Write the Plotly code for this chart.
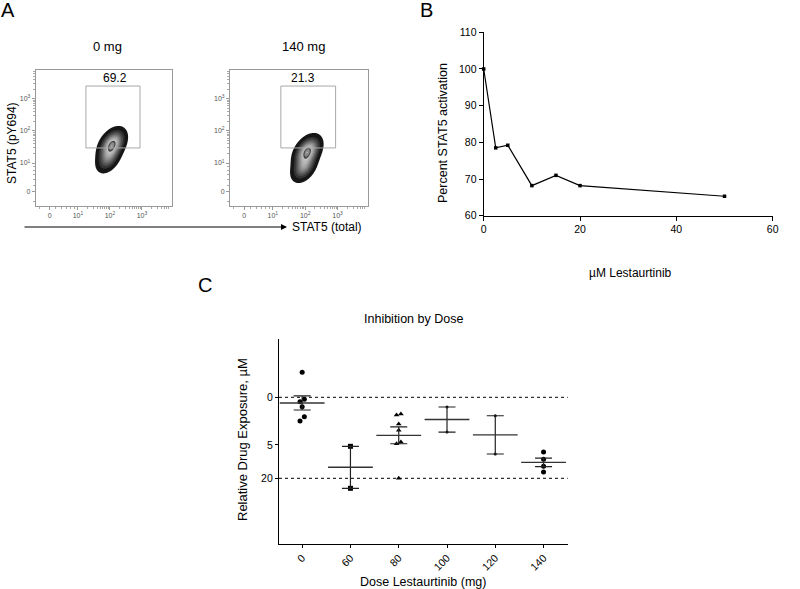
import numpy as np
import plotly.graph_objects as go

W, H = 800, 589
FONT = "Liberation Sans, Arial, sans-serif"


def px(x):
    return x / W


def py(y):
    return 1 - y / H


# ---------------- Panel A : flow cytometry ----------------
flow_samples = ["0 mg", "140 mg"]
gate_percent = ["69.2", "21.3"]
decade_labels = ["0", "10<sup>1</sup>", "10<sup>2</sup>", "10<sup>3</sup>"]
decade_values = [0.12, 1, 2, 3]          # biexponential display units
gate_x = [1.25, 2.94]                    # gate limits, decades
gate_y = [1.47, 3.40]
# population (main + tail component), decades
pop_cx = [2.07, 2.07]
pop_cy = [1.58, 1.36]
pop_sx = [0.19, 0.19]
pop_sy = [0.22, 0.22]
pop_rho = [0.40, 0.40]
tail_cx = [1.96, 1.97]
tail_cy = [1.18, 0.90]
tail_sx = [0.18, 0.18]
tail_sy = [0.22, 0.22]
tail_w = [0.45, 0.55]

# ---------------- Panel B : dose response ----------------
lestaurtinib_uM = [0, 2.5, 5, 10, 15, 20, 50]
pct_stat5 = [100, 78.5, 79.2, 68.2, 71.0, 68.2, 65.3]

# ---------------- Panel C : inhibition by dose ----------------
doses = ["0", "60", "80", "100", "120", "140"]
exposure_uM = [
    [-0.61, 0.18, 0.08, 0.42, 1.08, 1.44],
    [5.31, 29.6],
    [0.95, 0.88, 1.73, 2.46, 4.37, 4.71, 20.0],
    [0.44, 2.69],
    [1.00, 7.43],
    [6.82, 9.28, 12.37, 15.56],
]
ref_lines_uM = [0, 20]
ytick_uM = [0, 5, 20]


def to_axis(v):
    return np.log10(1 + np.asarray(v, dtype=float))


fig = go.Figure()

# ---- Panel A traces
gx = np.linspace(0.9, 3.2, 200)
gy = np.linspace(-0.2, 2.8, 240)
XX, YY = np.meshgrid(gx, gy)
a_axes = [("x4", "y4"), ("x5", "y5")]
lev_start, lev_size, lev_n = 0.03, 0.08, 13
band_colors = ["#161616", "#343434", "#4e4e4e", "#646464", "#7a7a7a", "#8e8e8e",
               "#a0a0a0", "#b0b0b0", "#bcbcbc", "#c6c6c6", "#4a4a4a", "#8a8a8a",
               "#b8b8b8"]
a_colorscale = [[0.0, "white"]]
for i, c in enumerate(band_colors):
    lo = max(lev_start + i * lev_size - 0.01, 0.001)
    hi = min(lev_start + (i + 1) * lev_size - 0.01, 1.0)
    a_colorscale.append([lo, c])
    a_colorscale.append([hi, c])
a_colorscale.insert(1, [a_colorscale[1][0] - 0.0005, "white"])
if a_colorscale[-1][0] < 1.0:
    a_colorscale.append([1.0, band_colors[-1]])


def gauss2(cx, cy, sx, sy, rho):
    dx = (XX - cx) / sx
    dy = (YY - cy) / sy
    return np.exp(-(dx * dx - 2 * rho * dx * dy + dy * dy) / (2 * (1 - rho * rho)))


for i in range(2):
    z = (gauss2(pop_cx[i], pop_cy[i], pop_sx[i], pop_sy[i], pop_rho[i])
         + tail_w[i] * gauss2(tail_cx[i], tail_cy[i], tail_sx[i], tail_sy[i],
                              pop_rho[i]))
    z = z / z.max()
    xa, ya = a_axes[i]
    fig.add_trace(go.Contour(
        x=gx, y=gy, z=z, xaxis=xa, yaxis=ya,
        zmin=0, zmax=1, zauto=False,
        contours=dict(start=lev_start, end=lev_start + (lev_n - 1) * lev_size,
                      size=lev_size, coloring="fill"),
        colorscale=a_colorscale, showscale=False,
        line=dict(width=0.3, color="rgba(0,0,0,0.2)"),
        hoverinfo="skip",
    ))

# ---- Panel B traces
fig.add_trace(go.Scatter(
    x=lestaurtinib_uM, y=pct_stat5, xaxis="x", yaxis="y",
    mode="lines+markers", line=dict(color="black", width=1.2),
    marker=dict(color="black", size=3.5, symbol="square"),
    cliponaxis=False, showlegend=False,
))

# ---- Panel C traces
group_style = [
    dict(size=5, symbol="circle"),
    dict(size=5, symbol="square"),
    dict(size=5, symbol="triangle-up"),
    dict(size=3, symbol="circle"),
    dict(size=3, symbol="circle"),
    dict(size=5, symbol="circle"),
]
means, sems = [], []
for gi, vals in enumerate(exposure_uM):
    u = to_axis(vals)
    means.append(u.mean())
    sems.append(u.std(ddof=1) / np.sqrt(len(u)))
    # simple symmetric spreading of near-overlapping points
    order = np.argsort(u)
    offs = np.zeros(len(u))
    k = 0
    while k < len(order) - 1:
        a, b = order[k], order[k + 1]
        if u[b] - u[a] < 0.075:
            offs[a], offs[b] = 0.045, -0.045
            k += 2
        else:
            k += 1
    fig.add_trace(go.Scatter(
        x=gi + offs, y=u, xaxis="x3", yaxis="y3", mode="markers",
        marker=dict(color="black", size=group_style[gi]["size"],
                    symbol=group_style[gi]["symbol"]),
        cliponaxis=False, showlegend=False,
    ))

fig.add_trace(go.Scatter(
    x=list(range(len(doses))), y=means, xaxis="x3", yaxis="y3", mode="markers",
    marker=dict(symbol="line-ew-open", size=32, color="#333",
                line=dict(width=1.4, color="#333")),
    error_y=dict(type="data", array=sems, width=8.5, thickness=1.2, color="#222"),
    cliponaxis=False, showlegend=False,
))

shapes = []
for v in ref_lines_uM:
    shapes.append(dict(type="line", xref="x3 domain", yref="y3", x0=0, x1=1,
                       y0=float(to_axis(v)), y1=float(to_axis(v)),
                       line=dict(color="black", width=1, dash="dot")))
for i, (xa, ya) in enumerate(a_axes):
    shapes.append(dict(type="rect", xref=xa, yref=ya, x0=gate_x[0], x1=gate_x[1],
                       y0=gate_y[0], y1=gate_y[1],
                       line=dict(color="#a8a8a8", width=1)))

minor_vals = [-0.2, 0.3, 0.5, 0.65, 0.78, 0.9]
for d in [1, 2, 3]:
    minor_vals += [d + np.log10(k) for k in range(2, 10) if d + np.log10(k) < 3.9]


def flow_axis(domain, rng, anchor):
    return dict(domain=domain, range=rng, anchor=anchor, showline=True, mirror=True,
                linecolor="#999", linewidth=1, ticks="outside", ticklen=3,
                tickcolor="#999", tickvals=decade_values, ticktext=decade_labels,
                tickfont=dict(size=7, color="#555", family=FONT),
                showgrid=False, zeroline=False, automargin=False,
                minor=dict(tickvals=minor_vals, ticklen=2, tickcolor="#aaa",
                           ticks="outside"))


common = dict(showgrid=False, zeroline=False, automargin=False, showline=True,
              linecolor="black", ticks="outside", tickcolor="black")

layout = dict(
    template="none",
    width=W, height=H, margin=dict(l=0, r=0, t=0, b=0, autoexpand=False),
    paper_bgcolor="white", plot_bgcolor="rgba(0,0,0,0)",
    font=dict(family=FONT, color="black"), showlegend=False,
    # Panel B
    xaxis=dict(domain=[px(483.7), px(772.7)], range=[0, 60], anchor="y2",
               linewidth=1.2, ticklen=4, tickwidth=1.2, tickvals=[0, 20, 40, 60],
               tickfont=dict(size=10.5), **common),
    yaxis=dict(domain=[py(215.7), py(32.3)], range=[60, 110], anchor="x",
               linewidth=1.2, ticklen=4, tickwidth=1.2,
               tickvals=[60, 70, 80, 90, 100, 110],
               tickfont=dict(size=10.5), **common),
    yaxis2=dict(domain=[py(238.3), py(221.7)], range=[0, 4.53], anchor="x",
                linewidth=1.2, ticklen=4, tickwidth=1.2, tickvals=[0, 4.53],
                ticktext=["0", ""], tickfont=dict(size=10.5), **common),
    # Panel C
    xaxis3=dict(domain=[px(279), px(567.7)], range=[-0.48, 5.5], anchor="y3",
                linewidth=1.3, ticklen=3, tickvals=list(range(len(doses))),
                ticktext=doses, tickangle=-45, tickfont=dict(size=10.5), **common),
    yaxis3=dict(domain=[py(543.7), py(339.3)], range=[2.39, -0.947], anchor="x3",
                linewidth=1.3, ticklen=3,
                tickvals=[float(t) for t in to_axis(ytick_uM)],
                ticktext=[str(t) for t in ytick_uM], tickfont=dict(size=10.5),
                **common),
    # Panel A
    xaxis4=flow_axis([px(35.7), px(172)], [-0.32, 3.94], "y4"),
    yaxis4=flow_axis([py(206), py(70)], [-0.34, 3.9], "x4"),
    xaxis5=flow_axis([px(230), px(368)], [-0.32, 3.94], "y5"),
    yaxis5=flow_axis([py(206), py(70)], [-0.34, 3.9], "x5"),
    shapes=shapes,
)
fig.update_layout(**layout)


def note(text, x, y, size, xanchor="center", **kw):
    d = dict(text=text, x=px(x), y=py(y), xref="paper", yref="paper",
             xanchor=xanchor, yanchor="middle",
             showarrow=False, font=dict(size=size, family=FONT, color="black"))
    d.update(kw)
    fig.add_annotation(**d)


# panel letters
note("A", 8, 10, 20)
note("B", 427, 10, 20)
note("C", 205, 285, 20)
# panel A texts
note(flow_samples[0], 107, 47, 13)
note(flow_samples[1], 303, 47, 13)
note(gate_percent[0], 115, 78, 12)
note(gate_percent[1], 303, 78, 12)
note("STAT5 (pY694)", 12, 143, 12, textangle=-90)
note("STAT5 (total)", 290, 227, 12, xanchor="left")
fig.add_annotation(x=px(287), y=py(227), xref="paper", yref="paper", text="",
                   showarrow=True, ax=-264, ay=0, axref="pixel", ayref="pixel",
                   arrowhead=2, arrowsize=1, arrowwidth=1.2, arrowcolor="black")
# panel B texts
note("Percent STAT5 activation", 443, 133, 12.5, textangle=-90)
note("µM Lestaurtinib", 630, 273, 12)
# panel C texts
note("Inhibition by Dose", 413, 319, 12.5)
note("Relative Drug Exposure, µM", 242, 440, 13, textangle=-90)
note("Dose Lestaurtinib (mg)", 423, 582, 12.5)

fig.write_html(
    "out.html",
    config={"displayModeBar": False},
    post_script="document.body.style.margin='0';document.body.style.overflow='hidden';",
)
